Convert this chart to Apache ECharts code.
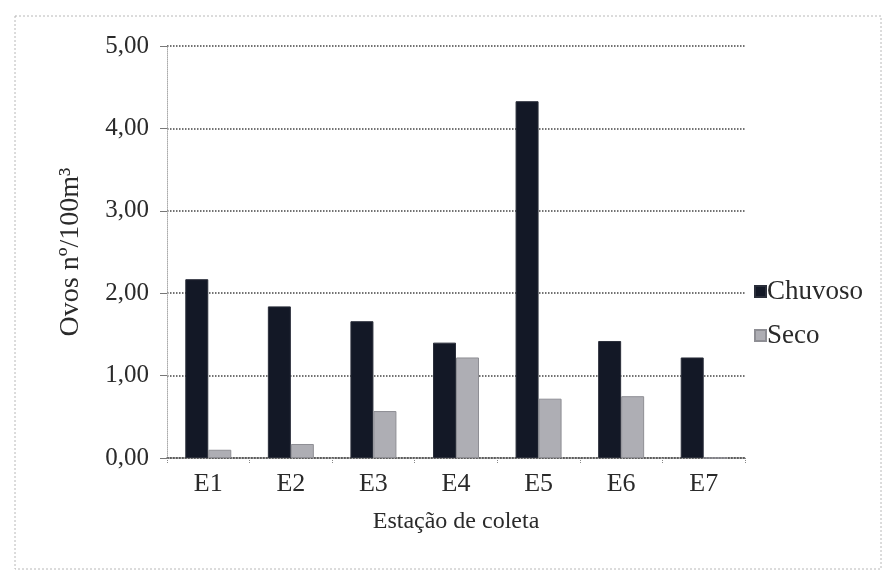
<!DOCTYPE html>
<html>
<head>
<meta charset="utf-8">
<script src="https://cdn.jsdelivr.net/npm/echarts@6/dist/echarts.min.js"></script>
<style>
  html, body { margin: 0; padding: 0; background: #fff; }
  #chart { width: 885px; height: 582px; }
</style>
</head>
<body>
<div id="chart"></div>
<script>
// Egg density per sampling station, rainy vs dry season
const stations = ['E1', 'E2', 'E3', 'E4', 'E5', 'E6', 'E7'];
const chuvoso = [2.17, 1.84, 1.66, 1.40, 4.33, 1.42, 1.22];
const seco = [0.10, 0.17, 0.57, 1.22, 0.72, 0.75, 0.00];
const yTicks = [0, 1, 2, 3, 4, 5];

const serif = '"Liberation Serif", "DejaVu Serif", serif';
const fmt = v => v.toFixed(2).replace('.', ',');

const chart = echarts.init(document.getElementById('chart'));
chart.setOption({
  backgroundColor: '#fff',
  animation: false,
  textStyle: { fontFamily: serif, color: '#2a2a2a' },
  graphic: [{
    type: 'rect',
    shape: { x: 15, y: 16, width: 866, height: 553 },
    style: { fill: 'none', stroke: '#b8b8b8', lineWidth: 1, lineDash: [2, 2] },
    silent: true
  }],
  grid: { left: 167, right: 140, top: 46, bottom: 124, containLabel: false },
  legend: {
    orient: 'vertical',
    left: 749,
    top: 273,
    itemWidth: 11,
    itemHeight: 11,
    itemGap: 17,
    icon: 'rect',
    textStyle: { fontFamily: serif, fontSize: 27, color: '#2a2a2a', padding: [0, 0, 0, -4] },
    data: ['Chuvoso', 'Seco']
  },
  xAxis: {
    type: 'category',
    data: stations,
    name: 'Estação de coleta',
    nameLocation: 'middle',
    nameGap: 52,
    nameTextStyle: { fontFamily: serif, fontSize: 24, color: '#2a2a2a' },
    axisLine: { show: true, lineStyle: { color: '#555', type: 'dotted', width: 1.5 } },
    axisTick: { show: true, length: 6, lineStyle: { color: '#888', type: 'dotted' } },
    axisLabel: { fontFamily: serif, fontSize: 26, color: '#2a2a2a', margin: 13 }
  },
  yAxis: {
    type: 'value',
    min: yTicks[0],
    max: yTicks[yTicks.length - 1],
    interval: 1,
    name: 'Ovos nº/100m³',
    nameLocation: 'middle',
    nameGap: 82,
    nameRotate: 90,
    nameTextStyle: { fontFamily: serif, fontSize: 28, color: '#2a2a2a' },
    axisLine: { show: true, lineStyle: { color: '#aaa', type: 'dotted', width: 1 } },
    axisTick: { show: true, length: 7, lineStyle: { color: '#777' } },
    axisLabel: { fontFamily: serif, fontSize: 25, color: '#2a2a2a', margin: 18, formatter: fmt },
    splitLine: { show: true, lineStyle: { color: '#444', type: 'dotted', width: 1.5 } }
  },
  series: [
    {
      name: 'Chuvoso',
      type: 'bar',
      data: chuvoso,
      barWidth: 23,
      barGap: '0%',
      itemStyle: { color: '#131826', borderColor: '#2a2e3a', borderWidth: 1 }
    },
    {
      name: 'Seco',
      type: 'bar',
      data: seco,
      barWidth: 23,
      itemStyle: { color: '#aeaeb4', borderColor: '#8e8e94', borderWidth: 1 }
    }
  ]
});
</script>
</body>
</html>
